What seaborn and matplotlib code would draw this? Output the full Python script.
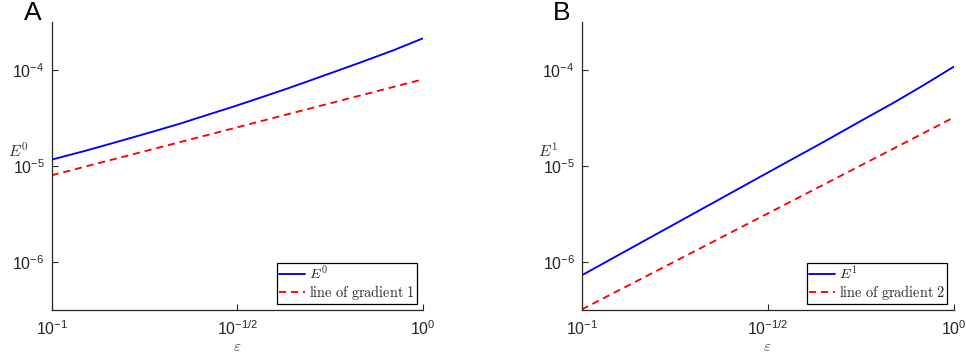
import numpy as np
import pandas as pd
import matplotlib
matplotlib.use("Agg")
import matplotlib.pyplot as plt
import seaborn as sns
from matplotlib.ticker import FixedLocator, FixedFormatter, NullLocator
from matplotlib.font_manager import FontProperties

# ---------------- data ----------------
eps_a = [0.1, 0.1259, 0.1493, 0.1820, 0.2213, 0.2630, 0.3090, 0.3631,
         0.4292, 0.5012, 0.5888, 0.6839, 0.8318, 1.0]
E0 = [1.164e-5, 1.472e-5, 1.774e-5, 2.208e-5, 2.754e-5, 3.412e-5, 4.159e-5,
      5.117e-5, 6.368e-5, 7.870e-5, 9.840e-5, 1.211e-4, 1.603e-4, 2.138e-4]
eps_a_ref = [0.1, 1.0]
grad1 = [8.0e-6, 8.0e-5]

eps_b = [0.1, 0.1413, 0.2042, 0.3020, 0.4467, 0.5754, 0.6918, 0.8318, 1.0]
E1 = [7.261e-7, 1.521e-6, 3.342e-6, 7.727e-6, 1.778e-5, 3.090e-5, 4.592e-5,
      6.982e-5, 1.081e-4]
eps_b_ref = [0.1, 1.0]
grad2 = [3.2e-7, 3.2e-5]

xticks = [0.1, 10 ** -0.5, 1.0]
xticklabels = [r"$\mathregular{10^{-1}}$", r"$\mathregular{10^{-1/2}}$", r"$\mathregular{10^{0}}$"]
yticks = [1e-6, 1e-5, 1e-4]
yticklabels = [r"$\mathregular{10^{-6}}$", r"$\mathregular{10^{-5}}$", r"$\mathregular{10^{-4}}$"]

panels = [
    dict(letter="A", eps=eps_a, E=E0, eps_ref=eps_a_ref, ref=grad1,
         name=r"$E^0$", refname=r"$\mathrm{line\ of\ gradient\ 1}$", ylab=r"$E^0$"),
    dict(letter="B", eps=eps_b, E=E1, eps_ref=eps_b_ref, ref=grad2,
         name=r"$E^1$", refname=r"$\mathrm{line\ of\ gradient\ 2}$", ylab=r"$E^1$"),
]

# ---------------- style ----------------
sns.set_style("ticks")
plt.rcParams["font.family"] = ["Liberation Sans", "DejaVu Sans"]
plt.rcParams["mathtext.fontset"] = "custom"
plt.rcParams["mathtext.rm"] = "Liberation Sans"
plt.rcParams["mathtext.it"] = "Liberation Sans:italic"
dark = "#262626"

fig = plt.figure(figsize=(9.66, 3.55), dpi=100)
ax_pos = [[0.0535, 0.1268, 0.3844, 0.8113], [0.6022, 0.1268, 0.3851, 0.8113]]
letter_x = [0.025, 0.5725]

for i, p in enumerate(panels):
    ax = fig.add_axes(ax_pos[i])
    ax.set_xscale("log")
    ax.set_yscale("log")
    df = pd.concat([
        pd.DataFrame({"eps": p["eps"], "E": p["E"], "series": p["name"]}),
        pd.DataFrame({"eps": p["eps_ref"], "E": p["ref"], "series": p["refname"]}),
    ], ignore_index=True)
    sns.lineplot(data=df, x="eps", y="E", hue="series", style="series",
                 hue_order=[p["name"], p["refname"]],
                 style_order=[p["name"], p["refname"]],
                 palette={p["name"]: "#0000ff", p["refname"]: "#ff0000"},
                 dashes={p["name"]: "", p["refname"]: (3.8, 2.6)},
                 linewidth=1.35, ax=ax, legend=True)
    leg = ax.get_legend()
    handles = leg.legend_handles
    labels = [t.get_text() for t in leg.get_texts()]
    leg.remove()
    fp = FontProperties(family="DejaVu Serif", size=10.3, math_fontfamily="cm")
    lg = ax.legend(handles, labels, loc="lower right", prop=fp, frameon=True,
                   fancybox=False, framealpha=1, edgecolor="black",
                   borderpad=0.12, handlelength=1.8, handletextpad=0.3,
                   labelspacing=0.05, borderaxespad=0.45)
    lg.get_frame().set_linewidth(0.9)

    ax.set_xlim(0.1, 1.0)
    ax.set_ylim(10 ** -6.5, 10 ** -3.5)
    ax.xaxis.set_major_locator(FixedLocator(xticks))
    ax.xaxis.set_major_formatter(FixedFormatter(xticklabels))
    ax.yaxis.set_major_locator(FixedLocator(yticks))
    ax.yaxis.set_major_formatter(FixedFormatter(yticklabels))
    ax.xaxis.set_minor_locator(NullLocator())
    ax.yaxis.set_minor_locator(NullLocator())
    ax.tick_params(axis="both", which="major", direction="in", length=4,
                   width=0.8, color=dark, labelcolor=dark, labelsize=11.5)
    ax.tick_params(axis="x", pad=7)
    ax.tick_params(axis="y", pad=5)
    sns.despine(ax=ax)
    for s in ["left", "bottom"]:
        ax.spines[s].set_color(dark)
        ax.spines[s].set_linewidth(0.9)

    ax.set_xlabel(r"$\varepsilon$", fontsize=11, color="#555555",
                  math_fontfamily="cm", labelpad=1)
    ax.set_ylabel(p["ylab"], fontsize=11.5, color="#333333", rotation=0,
                  math_fontfamily="cm", ha="center", va="baseline")
    ax.yaxis.set_label_coords(-0.09, 0.532)

    fig.text(letter_x[i], 0.944, p["letter"], fontsize=19, color="black",
             family="Liberation Sans", ha="left", va="baseline")

fig.savefig("out.png", dpi=100)
